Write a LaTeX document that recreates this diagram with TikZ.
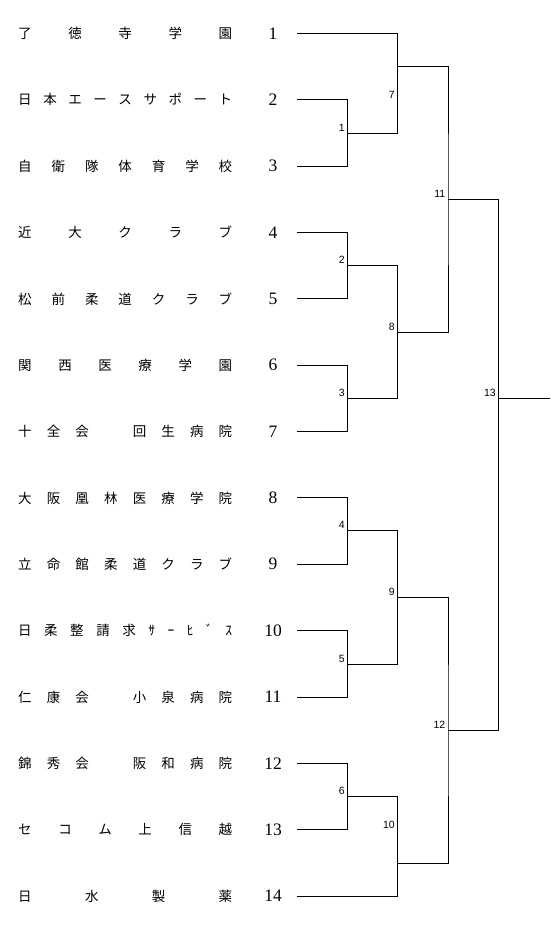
\documentclass[tikz,border=0pt]{standalone}
\usepackage{fontspec}
\newfontfamily\jpfont{Noto Sans CJK JP}
\newfontfamily\numfont{Liberation Serif}
\newfontfamily\lblfont{Liberation Sans}
\newcommand{\spreadname}[1]{\makebox[214pt][s]{#1}}
\newcommand{\jsp}{\hphantom{日}}
\newcommand{\hf}{\hfill}
\begin{document}
\begin{tikzpicture}[x=1pt,y=-1pt,
  teamname/.style={anchor=west,inner sep=0pt,font=\jpfont\fontsize{13.5}{14}\selectfont},
  teamnum/.style={anchor=center,inner sep=0pt,font=\numfont\fontsize{17.5}{18}\selectfont},
  matchlbl/.style={anchor=base east,inner sep=0pt,font=\lblfont\fontsize{10.5}{11}\selectfont},
  wire/.style={draw=black,line width=0.9pt}]
\useasboundingbox (0,0) rectangle (550,930);
% team rows
\foreach \i/\nm in {1/{了\hf 徳\hf 寺\hf 学\hf 園},
  2/{日\hf 本\hf エ\hf ー\hf ス\hf サ\hf ポ\hf ー\hf ト},
  3/{自\hf 衛\hf 隊\hf 体\hf 育\hf 学\hf 校},
  4/{近\hf 大\hf ク\hf ラ\hf ブ},
  5/{松\hf 前\hf 柔\hf 道\hf ク\hf ラ\hf ブ},
  6/{関\hf 西\hf 医\hf 療\hf 学\hf 園},
  7/{十\hf 全\hf 会\hf \jsp\hf 回\hf 生\hf 病\hf 院},
  8/{大\hf 阪\hf 凰\hf 林\hf 医\hf 療\hf 学\hf 院},
  9/{立\hf 命\hf 館\hf 柔\hf 道\hf ク\hf ラ\hf ブ},
  10/{日\hf 柔\hf 整\hf 請\hf 求\hf ｻ\hf ｰ\hf ﾋ\hf ﾞ\hf ｽ},
  11/{仁\hf 康\hf 会\hf \jsp\hf 小\hf 泉\hf 病\hf 院},
  12/{錦\hf 秀\hf 会\hf \jsp\hf 阪\hf 和\hf 病\hf 院},
  13/{セ\hf コ\hf ム\hf 上\hf 信\hf 越},
  14/{日\hf 水\hf 製\hf 薬}}{
  \pgfmathsetmacro{\yy}{33.3+(\i-1)*66.37}
  \node[teamname] (name\i) at (18,\yy) {\spreadname{\nm}};
  \node[teamnum] (num\i) at (273,\yy) {\i};
  \coordinate (t\i) at (297,\yy);
}
% match points (vertical line x, output y)
\coordinate (m1) at (347.5,133.0);
\coordinate (m2) at (347.5,265.7);
\coordinate (m3) at (347.5,398.7);
\coordinate (m4) at (347.5,530.8);
\coordinate (m5) at (347.5,664.0);
\coordinate (m6) at (347.5,796.7);
\coordinate (m7) at (397.5,66.7);
\coordinate (m8) at (397.5,332.2);
\coordinate (m9) at (397.5,597.4);
\coordinate (m10) at (397.5,863.1);
\coordinate (m11) at (448,199.4);
\coordinate (m12) at (448,730.3);
\coordinate (m13) at (498.5,398.7);
\coordinate (fin) at (550,398.7);
% brackets
\draw[wire] (t2) -| (m1) |- (t3);
\draw[wire] (t4) -| (m2) |- (t5);
\draw[wire] (t6) -| (m3) |- (t7);
\draw[wire] (t8) -| (m4) |- (t9);
\draw[wire] (t10) -| (m5) |- (t11);
\draw[wire] (t12) -| (m6) |- (t13);
\draw[wire] (t1) -| (m7) |- (m1);
\draw[wire] (m2) -| (m8) |- (m3);
\draw[wire] (m4) -| (m9) |- (m5);
\draw[wire] (m6) -| (m10) |- (t14);
\draw[wire] (m7) -| (m11) |- (m8);
\draw[wire] (m9) -| (m12) |- (m10);
\draw[wire] (m11) -| (m13) |- (m12);
\draw[wire] (m13) -- (fin);
% match labels
\node[matchlbl] (l1) at (345,131) {1};
\node[matchlbl] (l2) at (345,263.7) {2};
\node[matchlbl] (l3) at (345,396.7) {3};
\node[matchlbl] (l4) at (345,528.8) {4};
\node[matchlbl] (l5) at (345,662) {5};
\node[matchlbl] (l6) at (345,794.7) {6};
\node[matchlbl] (l7) at (395,98) {7};
\node[matchlbl] (l8) at (395,330.2) {8};
\node[matchlbl] (l9) at (395,595.4) {9};
\node[matchlbl] (l10) at (395,828) {10};
\node[matchlbl] (l11) at (445.5,197.4) {11};
\node[matchlbl] (l12) at (445.5,728.3) {12};
\node[matchlbl] (l13) at (496,396.7) {13};
\end{tikzpicture}
\end{document}
